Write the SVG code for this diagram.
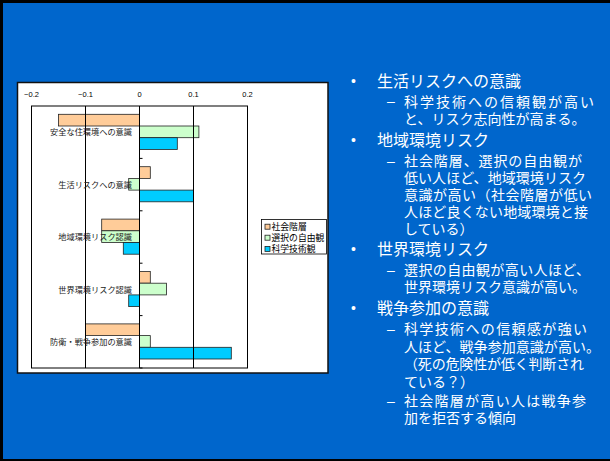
<svg xmlns="http://www.w3.org/2000/svg" width="610" height="461" viewBox="0 0 610 461">
<style>
.jp{font-family:"Noto Sans CJK JP","Noto Sans CJK SC",sans-serif;}
.h{font-size:16px;fill:#fff;}
.s{font-size:14px;fill:#fff;}
.bul{font-family:"Liberation Sans",sans-serif;font-size:14px;fill:#fff;}
.tick{font-family:"Liberation Sans",sans-serif;font-size:7.5px;fill:#000;text-anchor:middle;}
.cat{font-size:8.2px;fill:#222;text-anchor:end;}
.leg{font-size:8.8px;fill:#000;}
.bar{stroke:#222;stroke-width:0.8;}
.o{fill:#FFCC99;}.g{fill:#CCFFCC;}.b{fill:#00CCFF;}
.grid{stroke:#000;stroke-width:1;}
</style>
<rect x="0" y="0" width="610" height="461" fill="#0066CC"/>
<rect x="0" y="0" width="610" height="3" fill="#000"/>
<rect x="0" y="0" width="3" height="461" fill="#000"/>
<rect x="0" y="459" width="610" height="2" fill="#000"/>

<g id="chart">
<rect x="17.5" y="82.5" width="310.5" height="290.5" fill="#fff" stroke="#111" stroke-width="1.5"/>
<g id="axis-labels">
<text class="tick" x="31.5" y="97">−0.2</text>
<text class="tick" x="85.5" y="97">−0.1</text>
<text class="tick" x="139.5" y="97">0</text>
<text class="tick" x="193.5" y="97">0.1</text>
<text class="tick" x="247.5" y="97">0.2</text>
</g>
<g id="bars">
<rect class="bar o" x="58.5" y="114.3" width="81" height="11.7"/>
<rect class="bar g" x="139.5" y="126" width="59.4" height="11.7"/>
<rect class="bar b" x="139.5" y="137.7" width="37.8" height="11.7"/>

<rect class="bar o" x="139.5" y="166.7" width="10.8" height="11.7"/>
<rect class="bar g" x="128.7" y="178.4" width="10.8" height="11.7"/>
<rect class="bar b" x="139.5" y="190.1" width="54" height="11.7"/>

<rect class="bar o" x="101.7" y="219.1" width="37.8" height="11.7"/>
<rect class="bar g" x="101.7" y="230.8" width="37.8" height="11.7"/>
<rect class="bar b" x="123.3" y="242.5" width="16.2" height="11.7"/>

<rect class="bar o" x="139.5" y="271.5" width="10.8" height="11.7"/>
<rect class="bar g" x="139.5" y="283.2" width="27" height="11.7"/>
<rect class="bar b" x="128.7" y="294.9" width="10.8" height="11.7"/>

<rect class="bar o" x="85.5" y="323.9" width="54" height="11.7"/>
<rect class="bar g" x="139.5" y="335.6" width="10.8" height="11.7"/>
<rect class="bar b" x="139.5" y="347.3" width="91.8" height="11.7"/>
</g>
<g id="plot-frame">
<rect x="31.5" y="106" width="216" height="262" fill="none" stroke="#000" stroke-width="1"/>
<line class="grid" x1="85.5" y1="106" x2="85.5" y2="368"/>
<line class="grid" x1="193.5" y1="106" x2="193.5" y2="368"/>
<line class="grid" x1="139.5" y1="106" x2="139.5" y2="368"/>
<g stroke="#000" stroke-width="1">
<line x1="139.5" y1="158.4" x2="142.5" y2="158.4"/>
<line x1="139.5" y1="210.8" x2="142.5" y2="210.8"/>
<line x1="139.5" y1="263.2" x2="142.5" y2="263.2"/>
<line x1="139.5" y1="315.6" x2="142.5" y2="315.6"/>
<line x1="139.5" y1="368" x2="142.5" y2="368"/>
</g>
</g>
<g id="category-labels" class="jp">
<text class="cat" x="132" y="135.4">安全な住環境への意識</text>
<text class="cat" x="132" y="187.8">生活リスクへの意識</text>
<text class="cat" x="132" y="240.2">地域環境リスク認識</text>
<text class="cat" x="132" y="292.6">世界環境リスク認識</text>
<text class="cat" x="132" y="345">防衛・戦争参加の意識</text>
</g>
<g id="legend">
<rect x="261.5" y="219.5" width="65" height="34.5" fill="#fff" stroke="#000" stroke-width="0.8"/>
<rect class="bar o" x="265" y="224.2" width="5" height="5"/>
<rect class="bar g" x="265" y="235.2" width="5" height="5"/>
<rect class="bar b" x="265" y="246.4" width="5" height="5"/>
<text class="jp leg" x="271.5" y="230">社会階層</text>
<text class="jp leg" x="271.5" y="241">選択の自由観</text>
<text class="jp leg" x="271.5" y="252.3">科学技術観</text>
</g>
</g>

<g id="bullets">
<text class="bul" x="351" y="86">•</text>
<text class="jp h" x="377" y="87">生活リスクへの意識</text>
<text class="bul" x="387" y="106">–</text>
<text class="jp s" x="404" y="106.5" textLength="190" lengthAdjust="spacing">科学技術への信頼観が高い</text>
<text class="jp s" x="404" y="124">と、リスク志向性が高まる。</text>

<text class="bul" x="351" y="145">•</text>
<text class="jp h" x="377" y="146">地域環境リスク</text>
<text class="bul" x="387" y="165.5">–</text>
<text class="jp s" x="404" y="166" textLength="178" lengthAdjust="spacing">社会階層、選択の自由観が</text>
<text class="jp s" x="404" y="183" textLength="182" lengthAdjust="spacing">低い人ほど、地域環境リスク</text>
<text class="jp s" x="404" y="200" textLength="188" lengthAdjust="spacing">意識が高い（社会階層が低い</text>
<text class="jp s" x="404" y="217" textLength="184" lengthAdjust="spacing">人ほど良くない地域環境と接</text>
<text class="jp s" x="404" y="233.5">している）</text>

<text class="bul" x="351" y="254">•</text>
<text class="jp h" x="377" y="255">世界環境リスク</text>
<text class="bul" x="387" y="274.5">–</text>
<text class="jp s" x="404" y="275" textLength="186" lengthAdjust="spacing">選択の自由観が高い人ほど、</text>
<text class="jp s" x="404" y="292.3">世界環境リスク意識が高い。</text>

<text class="bul" x="351" y="313">•</text>
<text class="jp h" x="377" y="314">戦争参加の意識</text>
<text class="bul" x="387" y="334">–</text>
<text class="jp s" x="404" y="334.3" textLength="183" lengthAdjust="spacing">科学技術への信頼感が強い</text>
<text class="jp s" x="404" y="351.7" textLength="196" lengthAdjust="spacing">人ほど、戦争参加意識が高い。</text>
<text class="jp s" x="404" y="369" textLength="180" lengthAdjust="spacing">（死の危険性が低く判断され</text>
<text class="jp s" x="404" y="386.7">ている？）</text>
<text class="bul" x="387" y="405.5">–</text>
<text class="jp s" x="404" y="406" textLength="182" lengthAdjust="spacing">社会階層が高い人は戦争参</text>
<text class="jp s" x="404" y="423.3">加を拒否する傾向</text>
</g>
</svg>
